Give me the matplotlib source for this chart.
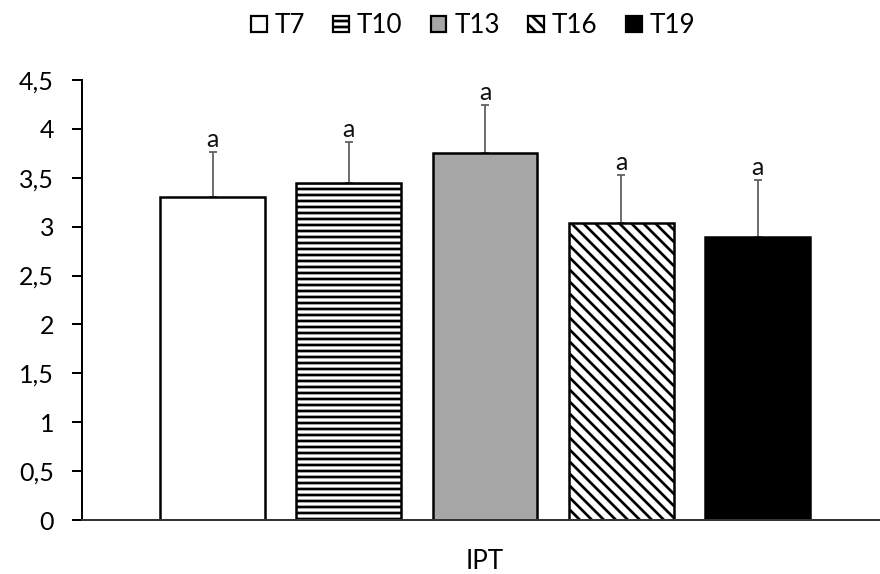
import matplotlib
matplotlib.use("Agg")
import matplotlib.pyplot as plt
from matplotlib.patches import Patch
from matplotlib.ticker import FuncFormatter

categories = ["T7", "T10", "T13", "T16", "T19"]
means = [3.30, 3.45, 3.75, 3.04, 2.89]
errors = [0.46, 0.42, 0.49, 0.49, 0.59]
letters = ["a", "a", "a", "a", "a"]
group_label = "IPT"
yticks = [0, 0.5, 1, 1.5, 2, 2.5, 3, 3.5, 4, 4.5]

faces = ["white", "white", "#a6a6a6", "white", "black"]
hatches = [None, "--", None, "\\\\", None]

plt.rcParams['font.family'] = ['Lato', 'DejaVu Sans']
plt.rcParams['hatch.linewidth'] = 2.7
plt.rcParams['hatch.color'] = 'black'

DPI = 72
fig = plt.figure(figsize=(880 / DPI, 574 / DPI), dpi=DPI)
ax = fig.add_axes([82 / 880, 1 - 520 / 574, 1 - 82 / 880, (520 - 80) / 574])

x = list(range(len(categories)))
bars = ax.bar(x, means, width=0.77, color=faces, edgecolor="black", linewidth=2.5,
              zorder=2)
for b, h in zip(bars, hatches):
    if h:
        b.set_hatch(h)

ax.errorbar(x, means, yerr=[[0] * len(errors), errors], fmt="none",
            ecolor="#606060", elinewidth=1.8, capsize=4, capthick=1.8, zorder=1)

for xi, m, e, t in zip(x, means, errors, letters):
    ax.text(xi, m + e + 0.01, t, ha="center", va="bottom", fontsize=25, color="#111111")

ax.set_ylim(0, 4.5)
ax.set_xlim(-0.958, 4.899)
ax.set_yticks(yticks)
ax.yaxis.set_major_formatter(FuncFormatter(lambda v, p: ("%g" % v).replace(".", ",")))
ax.tick_params(axis="y", labelsize=25, length=10, width=2, pad=18, direction="out")
ax.set_xticks([2])
ax.set_xticklabels([group_label])
ax.tick_params(axis="x", labelsize=26, length=0, pad=29)

for s in ["top", "right"]:
    ax.spines[s].set_visible(False)
ax.spines["left"].set_linewidth(2)
ax.spines["bottom"].set_linewidth(2)
ax.spines["bottom"].set_color("#333333")

handles = [Patch(facecolor=f, edgecolor="black", hatch=h, linewidth=2.2)
           for f, h in zip(faces, hatches)]
fig.legend(handles, categories, loc="upper center", bbox_to_anchor=(473 / 880, 1.0),
           ncol=5, frameon=False, fontsize=26, handlelength=0.6, handleheight=0.6,
           handletextpad=0.3, columnspacing=1.1, borderaxespad=0.1)

fig.savefig("out.png", dpi=DPI)
